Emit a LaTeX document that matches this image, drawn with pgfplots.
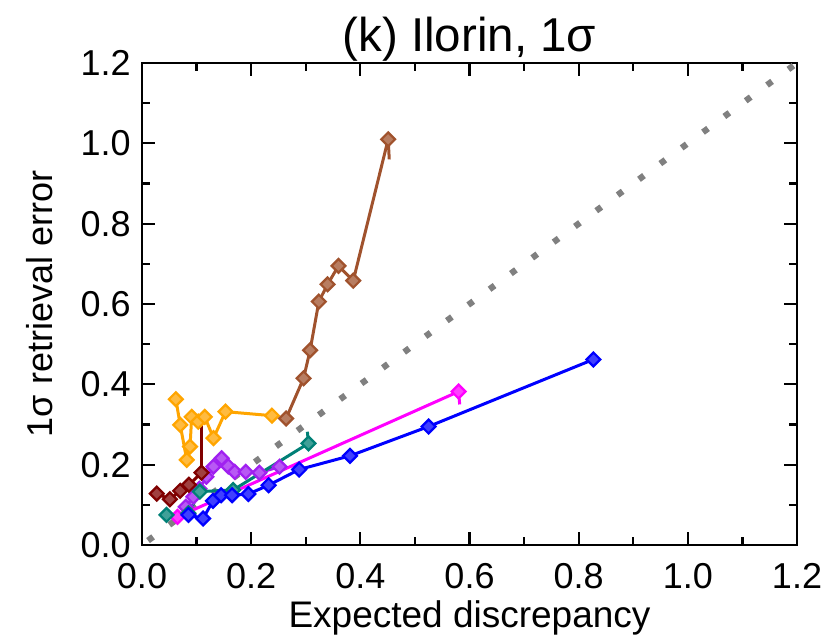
\documentclass[border=0pt]{standalone}
\usepackage{fontspec}
\setmainfont{Liberation Sans}
\usepackage{pgfplots}
\pgfplotsset{compat=1.18}
\definecolor{cOrange}{RGB}{255,165,0}
\definecolor{cBrown}{RGB}{160,82,45}
\definecolor{cDarkRed}{RGB}{128,0,0}
\definecolor{cPurple}{RGB}{160,32,240}
\definecolor{cMagenta}{RGB}{255,0,255}
\definecolor{cTeal}{RGB}{0,128,118}
\definecolor{cBlue}{RGB}{0,0,255}
\definecolor{cGray}{RGB}{128,128,128}
\begin{document}
\begin{tikzpicture}
\begin{axis}[
  width=262pt, height=192.8pt, scale only axis,
  xmin=0, xmax=1.2, ymin=0, ymax=1.2,
  xtick={0,0.2,0.4,0.6,0.8,1.0,1.2},
  ytick={0,0.2,0.4,0.6,0.8,1.0,1.2},
  minor tick num=1,
  tick align=inside,
  major tick length=5.2pt, minor tick length=3.2pt,
  every tick/.style={black, line width=0.9pt},
  axis line style={black, line width=1pt},
  font=\fontsize{14.4}{16}\selectfont,
  xticklabel style={font=\fontsize{14.4}{16}\selectfont, yshift=-4pt},
  yticklabel style={font=\fontsize{14.4}{16}\selectfont, xshift=-1pt},
  /pgf/number format/.cd, fixed, fixed zerofill, precision=1, assume math mode=true,
  /pgfplots/.cd,
  xlabel={Expected discrepancy},
  xlabel style={font=\fontsize{14.8}{16}\selectfont, at={(axis description cs:0.5,-0.1515)}, anchor=center},
  ylabel={1σ retrieval error},
  ylabel style={font=\fontsize{14.4}{16}\selectfont, at={(axis description cs:-0.1557,0.5)}, anchor=center},
  every axis plot/.append style={line width=1.2pt},
  mk/.style={mark=square*, mark size=1.95pt, mark options={rotate=45, solid, fill=#1!75!white, draw=#1, line width=0.9pt}},
]
% 1:1 line
\addplot[cGray, line width=2.5pt, dash pattern=on 2.5pt off 8.1pt, dash phase=-3pt] coordinates {(0,0) (1.2,1.2)};

% orange
\addplot[cOrange, mk=cOrange] coordinates {
(0.062,0.363) (0.070,0.299) (0.082,0.212) (0.088,0.245) (0.091,0.319)
(0.103,0.307) (0.115,0.319) (0.131,0.266) (0.153,0.332) (0.238,0.322)};

% brown
\addplot[cBrown, mk=cBrown] coordinates {
(0.264,0.315) (0.296,0.415) (0.308,0.485) (0.324,0.606) (0.340,0.649)
(0.360,0.695) (0.387,0.658) (0.451,1.010)};
\addplot[cBrown] coordinates {(0.451,1.010) (0.453,0.960)};

% purple
\addplot[cPurple, mk=cPurple] coordinates {
(0.080,0.095) (0.094,0.120) (0.105,0.140) (0.118,0.170) (0.131,0.195)
(0.146,0.216) (0.158,0.196) (0.170,0.182) (0.190,0.182) (0.215,0.180) (0.252,0.195)};

% magenta
\addplot[cMagenta, mk=cMagenta] coordinates {(0.065,0.070) (0.580,0.382)};
\addplot[cMagenta] coordinates {(0.580,0.382) (0.582,0.350)};

% dark red
\addplot[cDarkRed, mk=cDarkRed] coordinates {
(0.027,0.128) (0.051,0.114) (0.070,0.135) (0.086,0.150) (0.109,0.180)};
\addplot[cDarkRed] coordinates {(0.109,0.180) (0.109,0.307)};

% teal
\addplot[cTeal, mk=cTeal] coordinates {
(0.045,0.075) (0.085,0.079) (0.106,0.133) (0.167,0.137) (0.305,0.253)};
\addplot[cTeal] coordinates {(0.305,0.253) (0.303,0.282)};

% blue
\addplot[cBlue, mk=cBlue] coordinates {
(0.085,0.075) (0.112,0.066) (0.130,0.110) (0.145,0.124) (0.165,0.124)
(0.195,0.127) (0.232,0.149) (0.288,0.188) (0.381,0.222) (0.525,0.295) (0.827,0.462)};
\end{axis}
\node[font=\fontsize{19}{21}\selectfont, anchor=center] at ([yshift=9.6pt]current axis.north) {(k) Ilorin, 1σ};
\path ([shift={(-56.8pt,-38pt)}]current axis.south west) rectangle ([shift={(14.4pt,25.2pt)}]current axis.north east);
\end{tikzpicture}
\end{document}
